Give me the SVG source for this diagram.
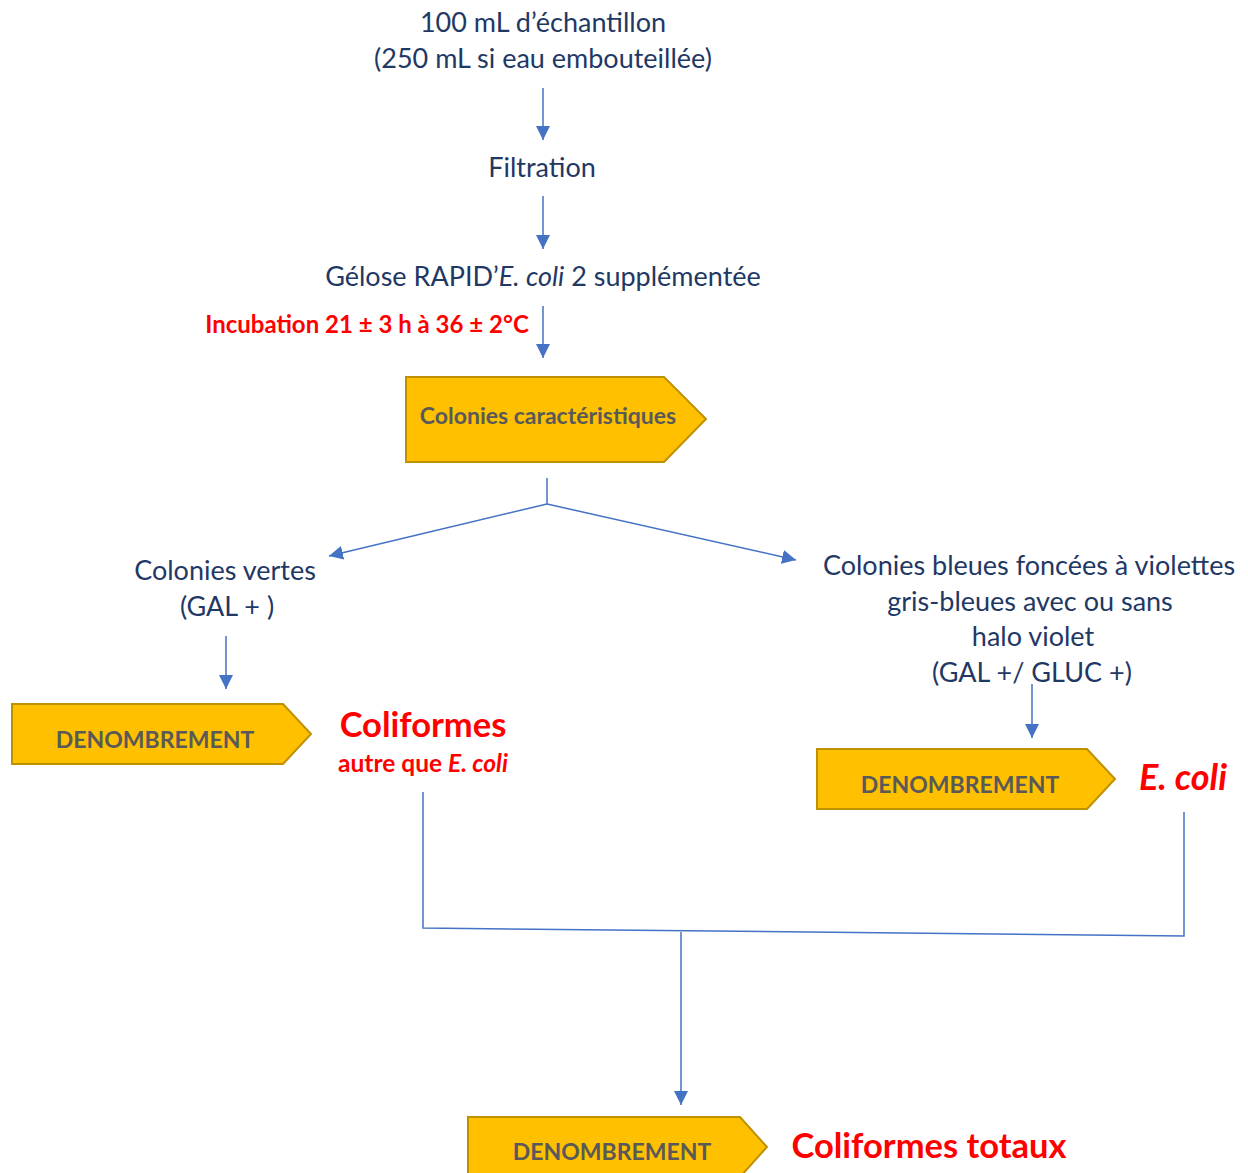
<svg xmlns="http://www.w3.org/2000/svg" width="1248" height="1173" viewBox="0 0 1248 1173">
<defs>
<style>
.t{font-family:Lato,"Open Sans","Liberation Sans",sans-serif;fill:#1F3864;font-size:27px;text-anchor:middle}
.r{font-family:Lato,"Open Sans","Liberation Sans",sans-serif;fill:#FF0000;font-weight:bold;text-anchor:middle}
.b{font-family:Lato,"Open Sans","Liberation Sans",sans-serif;fill:#595959;font-weight:bold;font-size:23px;text-anchor:middle}
.box{fill:#FFC000;stroke:#BF9000;stroke-width:2}
.c{stroke:#4472C4;stroke-width:1.5;fill:none}
</style>
<marker id="ah" viewBox="0 0 10 10" refX="10" refY="5" markerWidth="14" markerHeight="14" markerUnits="userSpaceOnUse" orient="auto">
<path d="M0,0 L10,5 L0,10 z" fill="#4472C4"/>
</marker>
</defs>
<rect width="1248" height="1173" fill="#FFFFFF"/>
<g id="connectors">
<line class="c" x1="543" y1="88" x2="543" y2="140" marker-end="url(#ah)"/>
<line class="c" x1="543" y1="196" x2="543" y2="249" marker-end="url(#ah)"/>
<line class="c" x1="543" y1="306" x2="543" y2="358" marker-end="url(#ah)"/>
<polyline class="c" points="547,478 547,504"/>
<line class="c" x1="547" y1="504" x2="329" y2="556" marker-end="url(#ah)"/>
<line class="c" x1="547" y1="504" x2="796" y2="560" marker-end="url(#ah)"/>
<line class="c" x1="226" y1="636" x2="226" y2="689" marker-end="url(#ah)"/>
<line class="c" x1="1032" y1="684" x2="1032" y2="738" marker-end="url(#ah)"/>
<polyline class="c" points="423,792 423,928 1184,936 1184,812"/>
<line class="c" x1="681" y1="932" x2="681" y2="1105" marker-end="url(#ah)"/>
</g>
<g id="sample">
<text class="t" x="543" y="32">100 mL d’échantillon</text>
<text class="t" x="543" y="68">(250 mL si eau embouteillée)</text>
</g>
<g id="filtration">
<text class="t" x="542" y="177">Filtration</text>
</g>
<g id="gelose">
<text class="t" x="543" y="286">Gélose RAPID’<tspan font-style="italic">E. coli</tspan> 2 supplémentée</text>
</g>
<g id="incubation">
<text class="r" x="367" y="333" font-size="24">Incubation 21 ± 3 h à 36 ± 2°C</text>
</g>
<g id="colonies-caracteristiques">
<path class="box" d="M406,377 H664 L706,419 L664,462 H406 Z"/>
<text class="b" x="548" y="424" font-size="24.5">Colonies caractéristiques</text>
</g>
<g id="colonies-vertes">
<text class="t" x="225" y="580">Colonies vertes</text>
<text class="t" x="227" y="616">(GAL + )</text>
</g>
<g id="colonies-bleues">
<text class="t" x="1029" y="575">Colonies bleues foncées à violettes</text>
<text class="t" x="1030" y="611">gris-bleues avec ou sans</text>
<text class="t" x="1033" y="646">halo violet</text>
<text class="t" x="1032" y="682">(GAL +/ GLUC +)</text>
</g>
<g id="denombrement-1">
<path class="box" d="M12,704 H283 L311,734 L283,764 H12 Z"/>
<text class="b" x="155" y="748">DENOMBREMENT</text>
</g>
<g id="coliformes">
<text class="r" x="423" y="737" font-size="34.5">Coliformes</text>
<text class="r" x="423" y="772" font-size="24.5">autre que <tspan font-style="italic">E. coli</tspan></text>
</g>
<g id="denombrement-2">
<path class="box" d="M817,749 H1087 L1115,779 L1087,809 H817 Z"/>
<text class="b" x="960" y="793">DENOMBREMENT</text>
</g>
<g id="ecoli">
<text class="r" x="1183" y="790" font-size="36" font-style="italic">E. coli</text>
</g>
<g id="denombrement-3">
<path class="box" d="M468,1117 H740 L767,1147 L740,1177 H468 Z"/>
<text class="b" x="612" y="1160">DENOMBREMENT</text>
</g>
<g id="coliformes-totaux">
<text class="r" x="929" y="1158" font-size="34.5">Coliformes totaux</text>
</g>
</svg>
